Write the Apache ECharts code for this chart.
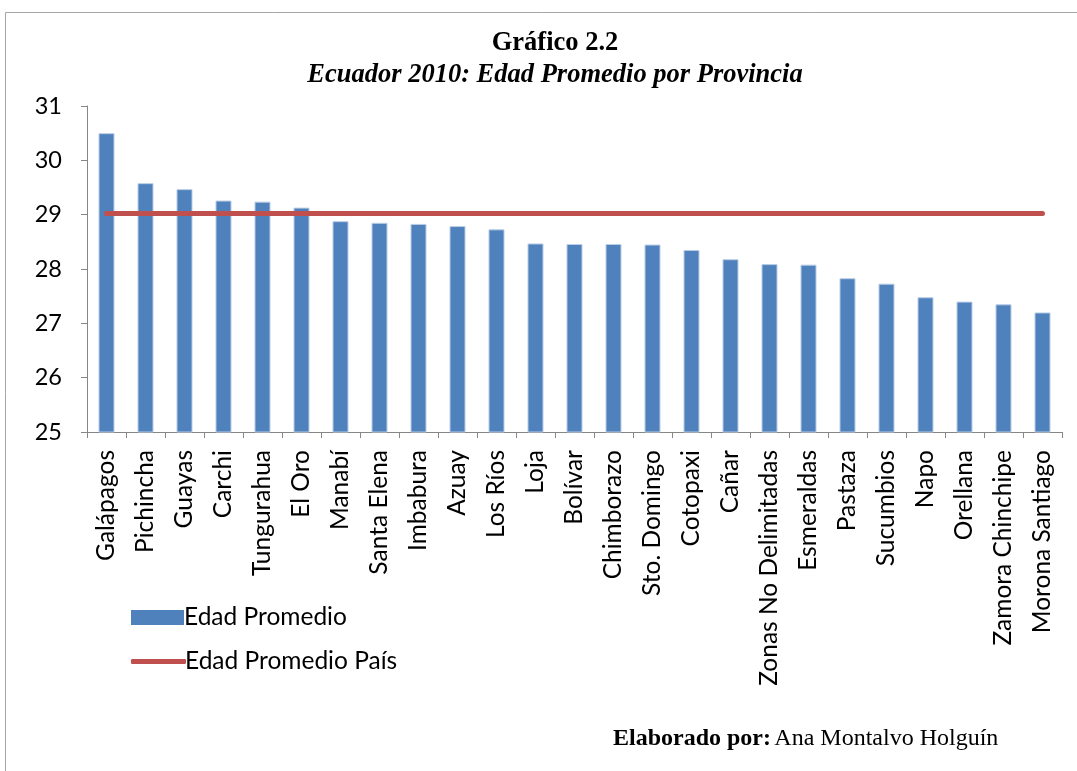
<!DOCTYPE html>
<html>
<head>
<meta charset="utf-8">
<script src="https://cdn.jsdelivr.net/npm/echarts@6/dist/echarts.min.js"></script>
<style>html,body{margin:0;padding:0;background:#fff;}#c{width:1077px;height:771px;}</style>
</head>
<body>
<div id="c"></div>
<script>
const categories = ["Galápagos","Pichincha","Guayas","Carchi","Tungurahua","El Oro","Manabí","Santa Elena","Imbabura","Azuay","Los Ríos","Loja","Bolívar","Chimborazo","Sto. Domingo","Cotopaxi","Cañar","Zonas No Delimitadas","Esmeraldas","Pastaza","Sucumbios","Napo","Orellana","Zamora Chinchipe","Morona Santiago"];
const edadPromedio = [30.50,29.58,29.47,29.26,29.24,29.13,28.88,28.85,28.83,28.79,28.73,28.47,28.46,28.46,28.45,28.35,28.18,28.09,28.08,27.83,27.73,27.48,27.40,27.35,27.20];
const edadPais = [29.02,29.02,29.02,29.02,29.02,29.02,29.02,29.02,29.02,29.02,29.02,29.02,29.02,29.02,29.02,29.02,29.02,29.02,29.02,29.02,29.02,29.02,29.02,29.02,29.02];
const yTicks = {min: 25, max: 31, interval: 1};

const font = 'Lato';
const chart = echarts.init(document.getElementById('c'), null, {renderer: 'canvas'});
chart.setOption({
  animation: false,
  backgroundColor: '#fff',
  title: [
    {text: 'Gráfico 2.2', left: 550, top: 25, textAlign: 'center',
     textStyle: {fontFamily: 'Liberation Serif', fontWeight: 'bold', fontSize: 26.5, color: '#000'}},
    {text: 'Ecuador 2010: Edad Promedio por Provincia', left: 550, top: 57, textAlign: 'center',
     textStyle: {fontFamily: 'Liberation Serif', fontWeight: 'bold', fontStyle: 'italic', fontSize: 26.5, color: '#000'}}
  ],
  graphic: [
    {type: 'rect', shape: {x: 5.5, y: 12.5, width: 1200, height: 900}, style: {fill: 'none', stroke: '#a6a6a6', lineWidth: 1}, z: -10},
    {type: 'text', left: 613, top: 727, style: {
      rich: {b: {fontFamily: 'Liberation Serif', fontWeight: 'bold', fontSize: 24, fill: '#000'},
             n: {fontFamily: 'Liberation Serif', fontSize: 24, fill: '#000'}},
      text: '{b|Elaborado por:} {n|Ana Montalvo Holguín}'}}
  ],
  legend: [
    {data: [{name: 'Edad Promedio', icon: 'rect'}], left: 126, top: 600, itemWidth: 53, itemHeight: 15, itemGap: 0,
     itemStyle: {borderWidth: 0},
     textStyle: {fontFamily: font, fontSize: 24.5, color: '#000', padding: [0,0,0,-5]}},
    {data: [{name: 'Edad Promedio País', icon: 'roundRect'}], left: 126, top: 644, itemWidth: 55, itemHeight: 5, itemGap: 0,
     itemStyle: {borderWidth: 0, color: '#C0504D'},
     textStyle: {fontFamily: font, fontSize: 24.5, color: '#000', padding: [0,0,0,-6]}}
  ],
  grid: {left: 87, right: 15, top: 106, bottom: 339, containLabel: false},
  xAxis: {
    type: 'category', data: categories, boundaryGap: true,
    axisLine: {lineStyle: {color: '#868686', width: 1}},
    axisTick: {show: true, length: 6, lineStyle: {color: '#868686'}},
    axisLabel: {rotate: 90, interval: 0, margin: 18, fontFamily: font, fontSize: 24.5, color: '#000'}
  },
  yAxis: {
    type: 'value', min: yTicks.min, max: yTicks.max, interval: yTicks.interval,
    splitLine: {show: false},
    axisLine: {show: true, lineStyle: {color: '#868686', width: 1}},
    axisTick: {show: true, length: 6, lineStyle: {color: '#868686'}},
    axisLabel: {margin: 25, fontFamily: font, fontSize: 23.5, color: '#000'}
  },
  series: [
    {name: 'Edad Promedio', type: 'bar', data: edadPromedio, barWidth: 16,
     itemStyle: {color: '#4F81BD', borderColor: '#b9cde5', borderWidth: 1}},
    {name: 'Edad Promedio País', type: 'line', data: edadPais, symbol: 'none',
     lineStyle: {color: '#C0504D', width: 5, cap: 'round'}, itemStyle: {color: '#C0504D'}, z: 5}
  ]
});
</script>
</body>
</html>
